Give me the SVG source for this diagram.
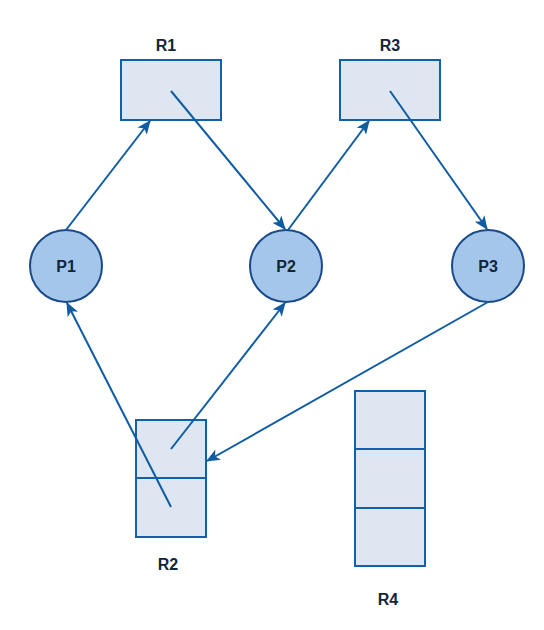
<svg xmlns="http://www.w3.org/2000/svg" width="544" height="630" viewBox="0 0 544 630">
<style>
.res{fill:#dee6f1;stroke:#1160a8;stroke-width:2}
.proc{fill:#a3c6ea;stroke:#1a4a8a;stroke-width:2}
.lbl{font-family:"Liberation Sans",Arial,sans-serif;font-weight:bold;font-size:16px;fill:#13243d;text-anchor:middle}
.edge{stroke:#0f5ca3;stroke-width:2;fill:none;marker-end:url(#ah)}
</style>
<defs>
<marker id="ah" viewBox="0 0 12 10" refX="11" refY="5" markerWidth="7" markerHeight="6" orient="auto" markerUnits="strokeWidth">
<path d="M0,0 L12,5 L0,10 L3,5 Z" fill="#0f5ca3"/>
</marker>
</defs>
<rect width="544" height="630" fill="#ffffff"/>
<g id="R1">
<rect class="res" x="121" y="60" width="100" height="60"/>
<text class="lbl" x="166" y="51">R1</text>
</g>
<g id="R3">
<rect class="res" x="340" y="60" width="100" height="60"/>
<text class="lbl" x="390" y="51">R3</text>
</g>
<g id="P1">
<circle class="proc" cx="66" cy="266" r="36"/>
<text class="lbl" x="66" y="272">P1</text>
</g>
<g id="P2">
<circle class="proc" cx="286" cy="266" r="36"/>
<text class="lbl" x="286" y="272">P2</text>
</g>
<g id="P3">
<circle class="proc" cx="488" cy="266" r="36"/>
<text class="lbl" x="488" y="272">P3</text>
</g>
<g id="R2">
<rect class="res" x="136" y="420" width="70" height="58"/>
<rect class="res" x="136" y="478" width="70" height="59"/>
<text class="lbl" x="168" y="570">R2</text>
</g>
<g id="R4">
<rect class="res" x="355" y="391" width="70" height="58"/>
<rect class="res" x="355" y="449" width="70" height="59"/>
<rect class="res" x="355" y="508" width="70" height="58"/>
<text class="lbl" x="388" y="605">R4</text>
</g>
<g id="connectors">
<line class="edge" x1="66" y1="230" x2="150" y2="121"/>
<line class="edge" x1="171" y1="91" x2="285" y2="229"/>
<line class="edge" x1="288" y1="230" x2="369" y2="121"/>
<line class="edge" x1="390" y1="91" x2="487" y2="229"/>
<line class="edge" x1="171" y1="449" x2="285" y2="303"/>
<line class="edge" x1="171" y1="507" x2="67" y2="303"/>
<line class="edge" x1="488" y1="302" x2="207" y2="461"/>
</g>
</svg>
